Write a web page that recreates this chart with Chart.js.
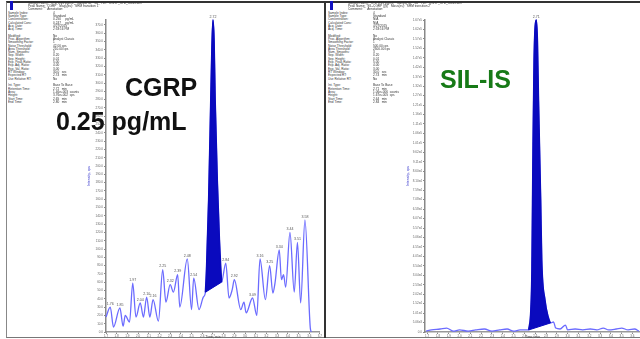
<!DOCTYPE html>
<html><head><meta charset="utf-8">
<script src="https://cdn.jsdelivr.net/npm/chart.js@4.4.1/dist/chart.umd.min.js"></script>
<style>
html,body{margin:0;padding:0;background:#fff;width:640px;height:339px;overflow:hidden;font-family:"Liberation Sans",Arial,sans-serif;}
#frame{position:absolute;left:6px;top:1px;width:640px;height:334px;border-left:1px solid #888;border-top:2px solid #333;border-bottom:1px solid #777;}
#divider{position:absolute;left:324px;top:1px;width:2px;height:337px;background:#333;}
canvas{position:absolute;top:0;}
.meta{position:absolute;transform:scale(0.45);transform-origin:0 0;font-size:7px;line-height:7.33px;color:#333;white-space:pre;font-family:"Liberation Sans",Arial,sans-serif;}
.big{position:absolute;font-weight:bold;font-family:"Liberation Sans",Arial,sans-serif;font-size:25px;line-height:25px;white-space:nowrap;}
.icon{position:absolute;width:3px;height:9px;background:#1010c0;top:1px;}
</style></head><body>
<div id="frame"></div>
<div id="divider"></div>
<div class="icon" style="left:10px"></div>
<div class="icon" style="left:330px"></div>
<canvas id="left" width="238" height="339" style="left:84px"></canvas>
<canvas id="right" width="237" height="339" style="left:403px"></canvas>
<div id="metaHolder"></div>
<div class="big" style="left:125px;top:75px;color:#111">CGRP</div>
<div class="big" style="left:56px;top:109px;color:#111">0.25 pg/mL</div>
<div class="big" style="left:440px;top:67px;color:#177a17">SIL-IS</div>
<script>
// ---- CGRP (analyte) trace ----
const cgrpTime = [1.72,1.76,1.79,1.85,1.88,1.90,1.94,1.97,2.00,2.04,2.07,2.10,2.13,2.16,2.21,2.25,2.28,2.32,2.35,2.39,2.41,2.48,2.52,2.54,2.59,2.63,2.65,2.66,2.68,2.70,2.71,2.72,2.73,2.74,2.76,2.78,2.80,2.84,2.87,2.90,2.92,2.98,3.01,3.03,3.09,3.13,3.16,3.21,3.25,3.28,3.30,3.34,3.36,3.38,3.40,3.44,3.48,3.51,3.54,3.58,3.63,3.64];
const cgrpIntensity = [18,30,6,29,7,20,12,59,18,35,18,42,18,39,13,75,36,57,48,69,30,88,27,65,27,42,48,75,159,280,340,376,352,280,183,111,60,83,41,51,63,27,36,23,41,20,88,39,80,47,59,99,63,69,54,120,48,108,35,135,5,0];
const cgrpPeakStart = 26, cgrpPeakEnd = 36;
const cgrpLabelled = [1,3,7,9,11,13,15,17,19,21,23,31,37,40,44,46,48,51,55,57,59];
const cgrpXRange = [1.72, 3.72];
const cgrpYMax = 376, cgrpYStep = 10;

// ---- SIL-IS (internal standard) trace ----
const silTime = [1.69,1.74,1.82,1.88,1.94,2.00,2.08,2.15,2.23,2.30,2.37,2.44,2.50,2.56,2.62,2.64,2.66,2.67,2.68,2.69,2.71,2.72,2.73,2.75,2.76,2.79,2.82,2.84,2.87,2.89,2.93,2.98,3.00,3.07,3.14,3.21,3.27,3.33,3.38,3.45,3.50,3.56,3.62,3.66];
const silIntensity = [500,1100,1600,2100,500,1100,500,1100,1600,500,1100,1600,500,1100,1100,1100,11800,33200,97400,145500,167000,156000,124000,70600,38500,17100,8000,4800,5350,2100,1600,3700,1100,1600,1100,1600,1100,2100,1100,1600,2100,1100,1600,500];
const silPeakStart = 15, silPeakEnd = 27;
const silLabelled = [20];
const silXRange = [1.68, 3.67];
const silYMax = 167000, silYStep = 5000;

// ---- Peak-review text ----
const metaLabelsTop = ["Sample Index:","Sample Type:","Concentration:","Calculated Conc:","Acq. Date:","Acq. Time:","","Modified:","Proc. Algorithm:","Smoothing Factor:","Noise Threshold:","Area Threshold:","Num. Smooths:","Sep. Width:","Sep. Height:","Exp. Peak Ratio:","Exp. Adj. Ratio:","Exp. Val. Ratio:","RT Window:","Expected RT:","Use Relative RT:","","Int. Type:","Retention Time:","Area:","Height:","Start Time:","End Time:"];
const metaValuesCgrp = ["4","Standard","0.250     pg/mL","0.247     pg/mL","4/27/2015","2:33:16 PM","","No","Analyst Classic","1","42.00 cps","210.00 cps","3","0.20","0.01","5.00","4.00","3.00","30.0   sec","2.74   min","No","","Base To Base","2.72   min","1.46e+003  counts","3.76e+002  cps","2.65   min","2.80   min"];
const metaValuesSil = ["4","Standard","N/A","N/A","4/27/2015","2:33:16 PM","","No","Analyst Classic","1","500.00 cps","2500.00 cps","3","0.20","0.01","5.00","4.00","3.00","30.0   sec","2.74   min","No","","Base To Base","2.71   min","1.06e+006  counts","1.67e+005  cps","2.64   min","2.84   min"];
const headerCgrp = ['Sample Name: "STD 0.25 pg/mL"  Sample ID: "S4"  File: "CGRP_STD_Curve.wiff"','Peak Name: "CGRP"  Mass(es): "SRM transition 1"','Comment: ""  Annotation: ""'];
const headerSil = ['Sample Name: "STD 0.25 pg/mL"  Sample ID: "S4"  File: "CGRP_STD_Curve.wiff"','Peak Name: "SIL-CGRP (IS)"  Mass(es): "SRM transition 2"','Comment: ""  Annotation: ""'];

function addMeta(left, top, lines){
  const d = document.createElement('div');
  d.className = 'meta';
  d.style.left = left + 'px'; d.style.top = top + 'px';
  d.textContent = lines.join('\n');
  document.getElementById('metaHolder').appendChild(d);
}
addMeta(28, 1, headerCgrp);
addMeta(8, 10.5, metaLabelsTop);
addMeta(53, 10.5, metaValuesCgrp);
addMeta(348, 1, headerSil);
addMeta(328, 10.5, metaLabelsTop);
addMeta(373, 10.5, metaValuesSil);

const peakLabelPlugin = {
  id: 'peakLabels',
  afterDatasetsDraw(chart, args, opts){
    const ds = chart.data.datasets[0];
    const ctx = chart.ctx;
    ctx.save();
    ctx.font = '3.6px "Liberation Sans", Arial';
    ctx.fillStyle = '#555';
    ctx.textAlign = 'center';
    ctx.textBaseline = 'bottom';
    (opts.indices || []).forEach(i => {
      const p = ds.data[i];
      const x = chart.scales.x.getPixelForValue(p.x);
      const y = chart.scales.y.getPixelForValue(p.y);
      ctx.fillText(p.x.toFixed(2), x, y - 1.5);
    });
    ctx.restore();
  }
};

function makeChart(id, time, inten, pStart, pEnd, labelled, xr, ymax, ystep, yFmt){
  const pts = time.map((t, i) => ({x: t, y: inten[i]}));
  const peakPts = pts.slice(pStart, pEnd + 1);
  const basePts = [pts[pStart], pts[pEnd]];
  const tickFont = {size: 3, family: '"Liberation Sans", Arial'};
  const dark = 'rgb(10,10,190)';
  return new Chart(document.getElementById(id), {
    type: 'line',
    data: {datasets: [
      {data: pts, order: 3, borderColor: '#6b6bff', borderWidth: 1.3, pointRadius: 0, fill: false, cubicInterpolationMode: 'monotone', clip: 4},
      {data: peakPts, order: 1, borderColor: dark, borderWidth: 1.6, pointRadius: 0, backgroundColor: dark, fill: '+1', cubicInterpolationMode: 'monotone', clip: 4},
      {data: basePts, order: 2, borderColor: dark, borderWidth: 1, pointRadius: 0, fill: false, tension: 0, clip: 4}
    ]},
    options: {
      responsive: false, animation: false, devicePixelRatio: 1,
      layout: {padding: {top: 20, right: 0, bottom: 0, left: 0}},
      plugins: {legend: {display: false}, tooltip: {enabled: false}, peakLabels: {indices: labelled}},
      scales: {
        x: {type: 'linear', min: xr[0], max: xr[1],
          afterFit(s){ s.height = 7; },
          ticks: {stepSize: 0.1, includeBounds: false, autoSkip: false, maxRotation: 0, font: tickFont, color: '#666', padding: 0, callback: v => v.toFixed(1)},
          grid: {drawOnChartArea: false, tickLength: 2, color: '#888'},
          border: {color: '#999', width: 1.5},
          title: {display: true, text: 'Time, min', font: {size: 3.5}, color: '#444', padding: 0}},
        y: {type: 'linear', min: 0, max: ymax,
          afterFit(s){ s.width = 22; },
          ticks: {stepSize: ystep, includeBounds: false, autoSkip: false, font: tickFont, color: '#666', padding: 1, callback: yFmt},
          grid: {drawOnChartArea: false, tickLength: 2, color: '#888'},
          border: {color: '#888', width: 1.5},
          title: {display: true, text: 'Intensity, cps', font: {size: 3.5}, color: '#3333cc', padding: {top: 3, bottom: 0}}}
      }
    },
    plugins: [peakLabelPlugin]
  });
}

makeChart('left', cgrpTime, cgrpIntensity, cgrpPeakStart, cgrpPeakEnd, cgrpLabelled, cgrpXRange, cgrpYMax, cgrpYStep, v => v.toFixed(1));
makeChart('right', silTime, silIntensity, silPeakStart, silPeakEnd, silLabelled, silXRange, silYMax, silYStep, v => v === 0 ? '0.0' : v.toExponential(2).replace('e+', 'e'));
</script>
</body></html>
